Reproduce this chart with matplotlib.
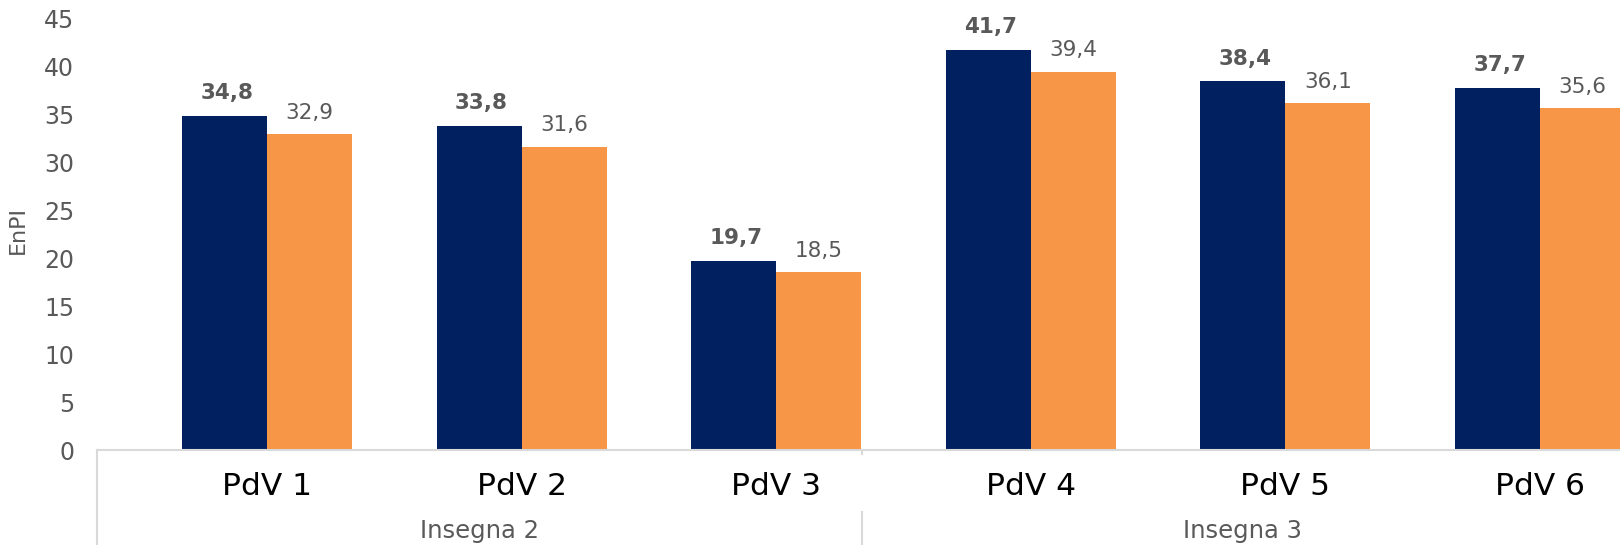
import matplotlib
matplotlib.use("Agg")
import matplotlib.pyplot as plt
import numpy as np

# ---- data ----
categories = ["PdV 1", "PdV 2", "PdV 3", "PdV 4", "PdV 5", "PdV 6"]
groups = ["Insegna 2", "Insegna 3"]
series_a = [34.8, 33.8, 19.7, 41.7, 38.4, 37.7]   # navy, bold labels
series_b = [32.9, 31.6, 18.5, 39.4, 36.1, 35.6]   # orange
y_ticks = [0, 5, 10, 15, 20, 25, 30, 35, 40, 45]
y_label = "EnPI"

# ---- style / layout ----
NAVY = "#002060"
ORANGE = "#F79646"
GREY = "#595959"
LINE = "#D9D9D9"

W, H, DPI = 1620, 545, 100
fig = plt.figure(figsize=(W / DPI, H / DPI), dpi=DPI)
ax_left, ax_bottom_px, ax_top_px = 97, 450, 0
ax = fig.add_axes([ax_left / W, (H - ax_bottom_px) / H, (W - ax_left) / W,
                   (ax_bottom_px - ax_top_px) / H])

x = np.arange(len(categories))
bw = 0.334
bars_a = ax.bar(x - bw / 2, series_a, width=bw, color=NAVY, zorder=2)
bars_b = ax.bar(x + bw / 2, series_b, width=bw, color=ORANGE, zorder=2)

def fmt(v):
    return f"{v:.1f}".replace(".", ",")

for rect, v in zip(bars_a, series_a):
    ax.annotate(fmt(v), (rect.get_x() + rect.get_width() / 2, v),
                xytext=(1.5, 12), textcoords="offset points",
                ha="center", va="baseline", fontsize=15.5,
                fontweight="bold", color=GREY)
for rect, v in zip(bars_b, series_b):
    ax.annotate(fmt(v), (rect.get_x() + rect.get_width() / 2, v),
                xytext=(0, 11), textcoords="offset points",
                ha="center", va="baseline", fontsize=15.5, color=GREY)

ax.set_xlim(-0.668, 5.314)
ax.set_ylim(0, 46.875)

ax.set_yticks(y_ticks)
ax.set_yticklabels([str(t) for t in y_ticks])
ax.tick_params(axis="y", length=0, pad=16.5, labelsize=17, labelcolor=GREY)

ax.set_xticks(x)
ax.set_xticklabels(categories)
ax.tick_params(axis="x", length=0, pad=15.5, labelsize=22.5, labelcolor="black")

for s in ["left", "right", "top"]:
    ax.spines[s].set_visible(False)
ax.spines["bottom"].set_color(LINE)
ax.spines["bottom"].set_linewidth(1.5)

ax.set_ylabel(y_label, fontsize=16, color=GREY, va="center")
ax.yaxis.set_label_coords(-0.0519, 0.49)

# multi-level category axis: group labels and dividers
group_edges = [-0.668, 2.337, 5.326]
tr = ax.get_xaxis_transform()
ax_h = ax_bottom_px - ax_top_px
def ypx(py):
    return -(py - ax_bottom_px) / ax_h

ax.plot([group_edges[0]] * 2, [0, ypx(545)], color=LINE, lw=1.5,
        transform=tr, clip_on=False)
ax.plot([group_edges[1]] * 2, [0, ypx(453.5)], color=LINE, lw=1.5,
        transform=tr, clip_on=False)
ax.plot([group_edges[1]] * 2, [ypx(512), ypx(545)], color=LINE, lw=1.5,
        transform=tr, clip_on=False)

for i, g in enumerate(groups):
    cx = (group_edges[i] + group_edges[i + 1]) / 2
    ax.text(cx, ypx(538), g, transform=tr, ha="center", va="baseline",
            fontsize=17.5, color=GREY, clip_on=False)

fig.savefig("out.png", dpi=DPI)
